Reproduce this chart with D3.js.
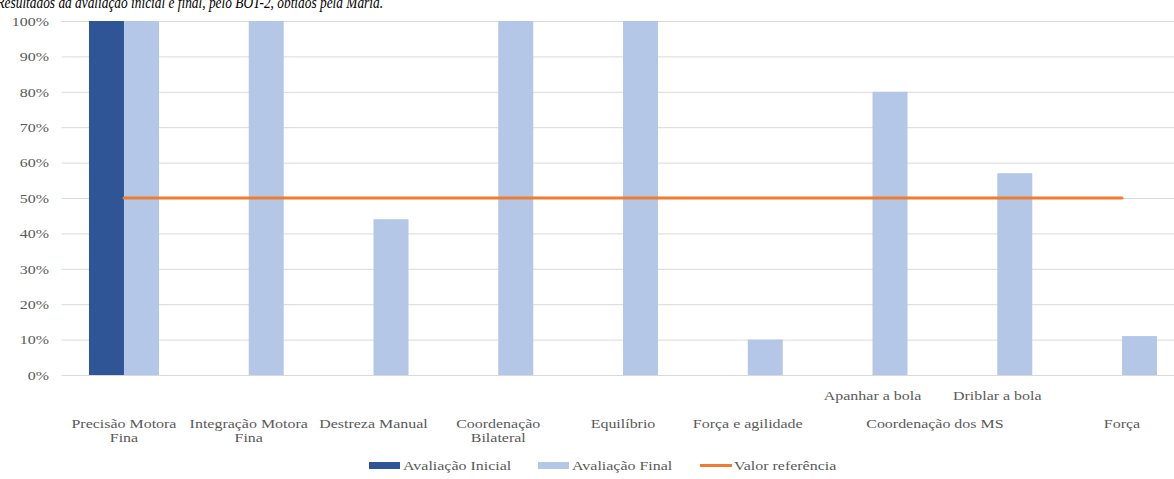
<!DOCTYPE html>
<html>
<head>
<meta charset="utf-8">
<script src="https://cdn.jsdelivr.net/npm/d3@7"></script>
<style>
  html, body { margin: 0; padding: 0; background: #ffffff; }
  svg { display: block; }
  text { font-family: "Liberation Serif", "Times New Roman", serif; }
</style>
</head>
<body>
<svg id="chart" width="1174" height="479"></svg>
<script>
// BOT-2 subtests (inner category level)
const categories = ["Precisão Motora Fina", "Integração Motora Fina", "Destreza Manual",
  "Coordenação Bilateral", "Equilíbrio", "Força e agilidade",
  "Apanhar a bola", "Driblar a bola", "Força"];

// Scores as a fraction of the maximum
const avaliacaoInicial = [1.00, 0, 0, 0, 0, 0, 0, 0, 0];
const avaliacaoFinal   = [1.00, 1.00, 0.44, 1.00, 1.00, 0.10, 0.80, 0.57, 0.11];
const valorReferencia  = [0.50, 0.50, 0.50, 0.50, 0.50, 0.50, 0.50, 0.50, 0.50];

// Category axis: second-level labels (rows) and the categories each one spans
const subLabels   = ["", "", "", "", "", "", "Apanhar a bola", "Driblar a bola", ""];
const groupLabels = [["Precisão Motora", "Fina"], ["Integração Motora", "Fina"], ["Destreza Manual"],
  ["Coordenação", "Bilateral"], ["Equilíbrio"], ["Força e agilidade"], ["Coordenação dos MS"], ["Força"]];
const groupSpans  = [[0, 0], [1, 1], [2, 2], [3, 3], [4, 4], [5, 5], [6, 7], [8, 8]];

const yTicks = [0, 0.1, 0.2, 0.3, 0.4, 0.5, 0.6, 0.7, 0.8, 0.9, 1.0];
const seriesNames = ["Avaliação Inicial", "Avaliação Final", "Valor referência"];

const colors = { inicial: "#2F5597", final: "#B4C7E7", ref: "#ED7D31", text: "#595959", grid: "#D9D9D9" };
const SX = 1.33; // horizontal stretch of the chart lettering

const svg = d3.select("#chart");
const plotLeft = 61.6, plotRight = 1184.4, plotTop = 21, plotBottom = 375;

const x = d3.scaleBand().domain(d3.range(categories.length)).range([plotLeft, plotRight]).padding(0);
const inner = d3.scaleBand().domain(["inicial", "final"]).range([0, x.bandwidth()])
  .paddingInner(0).paddingOuter(0.782);
const y = d3.scaleLinear().domain([0, 1]).range([plotBottom, plotTop]);

// Caption line above the chart (its upper part runs off the top edge)
svg.append("text")
  .attr("transform", "translate(383,7.5) scale(0.81,1)")
  .attr("text-anchor", "end")
  .attr("font-style", "italic")
  .attr("font-size", 16.5)
  .attr("fill", "#000")
  .text("Resultados da avaliação inicial e final, pelo BOT-2, obtidos pela Maria.");

// Horizontal gridlines
svg.append("g")
  .attr("transform", `translate(${plotLeft},0)`)
  .call(d3.axisLeft(y).tickValues(yTicks).tickSize(-(plotRight - plotLeft)).tickFormat(""))
  .call(g => g.select(".domain").remove())
  .call(g => g.selectAll(".tick line").attr("stroke", colors.grid).attr("stroke-width", 1));

// Y-axis labels
svg.append("g")
  .attr("transform", `translate(${plotLeft},0)`)
  .call(d3.axisLeft(y).tickValues(yTicks).tickSize(0).tickFormat(d3.format(".0%")))
  .call(g => g.select(".domain").remove())
  .call(g => g.selectAll(".tick text")
    .attr("x", -9.5)
    .attr("dy", "0.35em")
    .attr("transform", `scale(${SX},1)`)
    .attr("font-family", "Liberation Serif, Times New Roman, serif")
    .attr("font-size", 12)
    .attr("fill", colors.text));

// Bars
const barData = [];
categories.forEach((c, i) => {
  barData.push({ i, key: "inicial", v: avaliacaoInicial[i] });
  barData.push({ i, key: "final", v: avaliacaoFinal[i] });
});
svg.append("g").selectAll("rect")
  .data(barData.filter(d => d.v > 0))
  .join("rect")
  .attr("x", d => x(d.i) + inner(d.key))
  .attr("width", inner.bandwidth())
  .attr("y", d => y(d.v))
  .attr("height", d => y(0) - y(d.v))
  .attr("fill", d => colors[d.key]);

// Reference line
const line = d3.line()
  .x((d, i) => x(i) + x.bandwidth() / 2)
  .y(d => y(d));
svg.append("path")
  .datum(valorReferencia)
  .attr("d", line)
  .attr("fill", "none")
  .attr("stroke", colors.ref)
  .attr("stroke-width", 3)
  .attr("stroke-linecap", "round");

// Stretched text helper
function label(g, px, py, str, anchor) {
  return g.append("text")
    .attr("transform", `translate(${px},${py}) scale(${SX},1)`)
    .attr("text-anchor", anchor || "middle")
    .attr("font-size", 12)
    .attr("fill", colors.text)
    .text(str);
}

// Category axis labels
const xl = svg.append("g");
subLabels.forEach((s, i) => {
  if (s) label(xl, x(i) + x.bandwidth() / 2, 400, s);
});
groupLabels.forEach((lines, k) => {
  const [a, b] = groupSpans[k];
  const cx = (x(a) + x(b) + x.bandwidth()) / 2;
  lines.forEach((ln, j) => label(xl, cx, 428 + j * 13.5, ln));
});

// Legend
const lg = svg.append("g");
const legendItems = [
  { name: seriesNames[0], x: 369, type: "rect", color: colors.inicial },
  { name: seriesNames[1], x: 538, type: "rect", color: colors.final },
  { name: seriesNames[2], x: 700, type: "line", color: colors.ref }
];
legendItems.forEach(it => {
  if (it.type === "rect") {
    lg.append("rect").attr("x", it.x).attr("y", 462).attr("width", 31).attr("height", 7).attr("fill", it.color);
  } else {
    lg.append("line").attr("x1", it.x).attr("x2", it.x + 32).attr("y1", 465.5).attr("y2", 465.5)
      .attr("stroke", it.color).attr("stroke-width", 3);
  }
  label(lg, it.x + 34, 470, it.name, "start");
});
</script>
</body>
</html>
